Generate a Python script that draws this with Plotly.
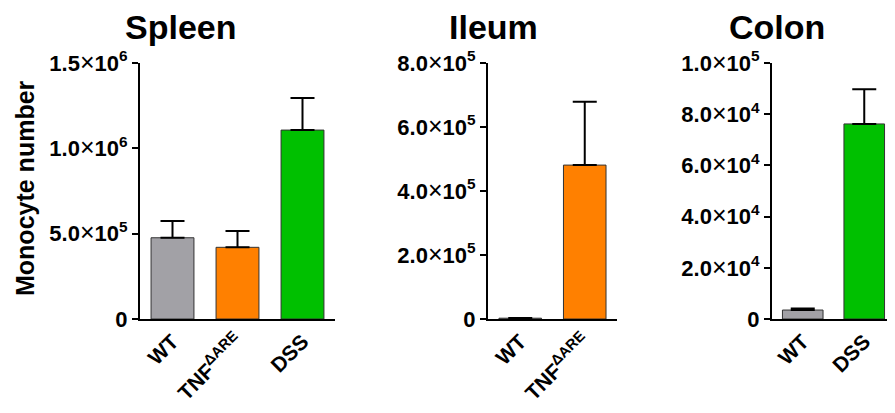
import plotly.graph_objects as go

FONT = "Arial, Liberation Sans, sans-serif"

# Data
spleen_cats = ["WT", "TNF<sup>ΔARE</sup>", "DSS"]
spleen_mean = [476000, 420000, 1107000]
spleen_top = [574000, 516000, 1295000]
spleen_colors = ["#A2A1A6", "#FF8000", "#00C000"]

ileum_cats = ["WT", "TNF<sup>ΔARE</sup>"]
ileum_mean = [2500, 481000]
ileum_top = [3000, 679000]
ileum_colors = ["#A2A1A6", "#FF8000"]

colon_cats = ["WT", "DSS"]
colon_mean = [3500, 76200]
colon_top = [4100, 89700]
colon_colors = ["#A2A1A6", "#00C000"]

X = "<span style='font-size:25px;font-weight:normal'>×</span>"
spleen_ticks = [0, 5e5, 1e6, 1.5e6]
spleen_ticktext = ["0", f"5.0{X}10<sup>5</sup>", f"1.0{X}10<sup>6</sup>", f"1.5{X}10<sup>6</sup>"]
ileum_ticks = [0, 2e5, 4e5, 6e5, 8e5]
ileum_ticktext = ["0", f"2.0{X}10<sup>5</sup>", f"4.0{X}10<sup>5</sup>", f"6.0{X}10<sup>5</sup>", f"8.0{X}10<sup>5</sup>"]
colon_ticks = [0, 2e4, 4e4, 6e4, 8e4, 1e5]
colon_ticktext = ["0", f"2.0{X}10<sup>4</sup>", f"4.0{X}10<sup>4</sup>", f"6.0{X}10<sup>4</sup>", f"8.0{X}10<sup>4</sup>", f"1.0{X}10<sup>5</sup>"]

# page has an 8px body margin, so the figure is drawn 8px smaller and offset
OFF = 8
W, H = 895 - OFF, 413 - OFF
MT, MB = 63 - OFF, 413 - 319

fig = go.Figure()

def add_panel(cats, mean, top, colors, xa, ya):
    fig.add_trace(go.Bar(
        x=cats, y=mean, width=0.66,
        marker=dict(color=colors, line=dict(color="#333333", width=1)),
        error_y=dict(type="data", symmetric=False,
                     array=[t - m for t, m in zip(top, mean)],
                     arrayminus=[0] * len(mean),
                     color="black", thickness=2, width=12),
        xaxis=xa, yaxis=ya, showlegend=False,
    ))

add_panel(spleen_cats, spleen_mean, spleen_top, spleen_colors, "x", "y")
add_panel(ileum_cats, ileum_mean, ileum_top, ileum_colors, "x2", "y2")
add_panel(colon_cats, colon_mean, colon_top, colon_colors, "x3", "y3")

def px_x(p):
    return (p - OFF) / W

def xax(domain, n, anchor):
    return dict(domain=domain, anchor=anchor, range=[-0.5, n - 0.5],
                showline=True, linecolor="black", linewidth=2,
                ticks="", tickangle=-45, showgrid=False, zeroline=False,
                tickfont=dict(family=FONT, size=21, color="black", weight="bold"),
                automargin=False)

def yax(rng, tv, tt, anchor):
    return dict(anchor=anchor, range=rng, tickvals=tv, ticktext=tt,
                showline=True, linecolor="black", linewidth=2,
                ticks="outside", ticklen=6, tickwidth=2, tickcolor="black",
                showgrid=False, zeroline=False,
                tickfont=dict(family=FONT, size=22, color="black", weight="bold"),
                automargin=False)

fig.update_layout(
    width=W, height=H,
    margin=dict(l=0, r=0, t=MT, b=MB),
    plot_bgcolor="white", paper_bgcolor="white",
    xaxis=xax([px_x(140), px_x(335)], 3, "y"),
    xaxis2=xax([px_x(488), px_x(617)], 2, "y2"),
    xaxis3=xax([px_x(772), 1.0], 2, "y3"),
    yaxis=yax([0, 1.5e6], spleen_ticks, spleen_ticktext, "x"),
    yaxis2=yax([0, 8e5], ileum_ticks, ileum_ticktext, "x2"),
    yaxis3=yax([0, 1e5], colon_ticks, colon_ticktext, "x3"),
)

plot_h = H - MT - MB
def py(pix):
    return (413 - MB - pix) / plot_h

for txt, cx in [("Spleen", 180), ("Ileum", 493), ("Colon", 777)]:
    fig.add_annotation(text=f"<b>{txt}</b>", x=px_x(cx), y=py(27), xref="paper", yref="paper",
                       showarrow=False, xanchor="center", yanchor="middle",
                       font=dict(family=FONT, size=34, color="black"))

fig.add_annotation(text="<b>Monocyte number</b>", x=px_x(25), y=py(188), xref="paper", yref="paper",
                   showarrow=False, textangle=-90, xanchor="center", yanchor="middle",
                   font=dict(family=FONT, size=25, color="black"))

fig.write_html("out.html")
